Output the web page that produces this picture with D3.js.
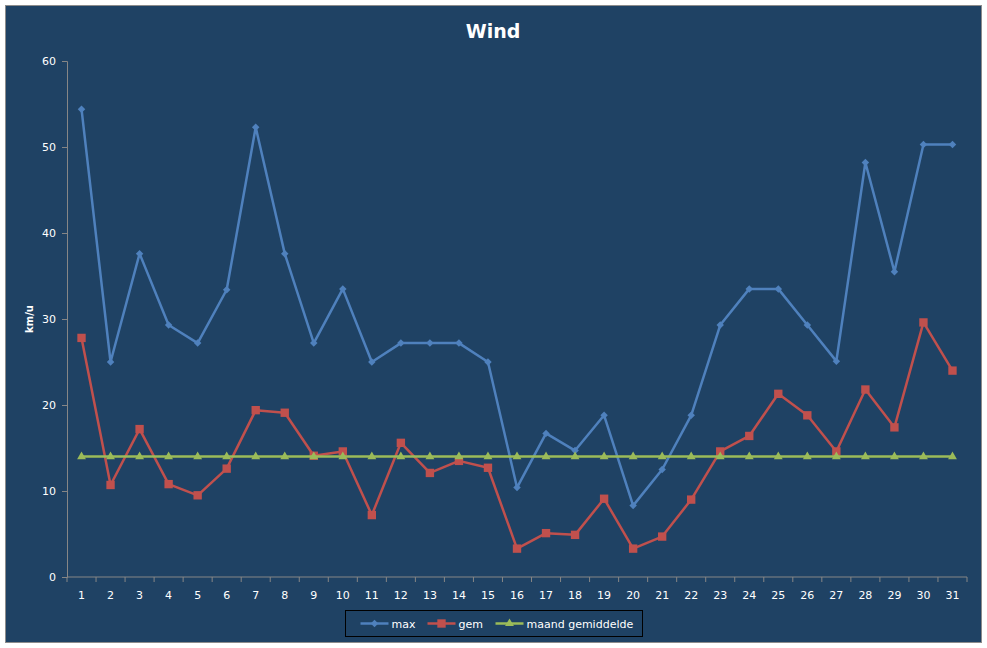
<!DOCTYPE html>
<html>
<head>
<meta charset="utf-8">
<script src="https://cdn.jsdelivr.net/npm/d3@7"></script>
<style>
  body { margin: 0; background: #fff; }
  text { font-family: "DejaVu Sans", Verdana, sans-serif; }
</style>
</head>
<body>
<svg id="chart"></svg>
<script>
var svg_width = 987, svg_height = 648;
var margin = { top: 61, right: 20, bottom: 71, left: 67 };
var width = 967 - margin.left;
var height = 577 - margin.top;

// data
var days = d3.range(1, 32);
var maxWind = [54.4, 25.0, 37.6, 29.3, 27.2, 33.4, 52.3, 37.6, 27.2, 33.5,
  25.0, 27.2, 27.2, 27.2, 25.0, 10.4, 16.7, 14.7, 18.8, 8.3,
  12.5, 18.8, 29.3, 33.5, 33.5, 29.3, 25.1, 48.2, 35.5, 50.3, 50.3];
var gemWind = [27.8, 10.7, 17.2, 10.8, 9.5, 12.6, 19.4, 19.1, 14.1, 14.6,
  7.2, 15.6, 12.1, 13.5, 12.7, 3.3, 5.1, 4.9, 9.1, 3.3,
  4.7, 9.0, 14.6, 16.4, 21.3, 18.8, 14.6, 21.8, 17.4, 29.6, 24.0];
var maandGem = days.map(function () { return 14.0; });
var yTicks = [0, 10, 20, 30, 40, 50, 60];

// marker rot = rotation in degrees (diamond = square turned 45)
var series = [
  { name: "max", values: maxWind, color: "#4F81BD", marker: d3.symbolSquare, size: 28, rot: 45 },
  { name: "gem", values: gemWind, color: "#C0504D", marker: d3.symbolSquare, size: 70, rot: 0 },
  { name: "maand gemiddelde", values: maandGem, color: "#9BBB59", marker: d3.symbolTriangle, size: 34, rot: 0 }
];

var svg = d3.select("#chart")
  .attr("width", svg_width)
  .attr("height", svg_height);

// frame
svg.append("rect")
  .attr("x", 5.5).attr("y", 5.5)
  .attr("width", 976).attr("height", 637)
  .attr("fill", "#1F4264")
  .attr("stroke", "#8C8C8C")
  .attr("stroke-width", 1);

svg.append("text")
  .attr("x", 493).attr("y", 38)
  .attr("text-anchor", "middle")
  .attr("fill", "#fff")
  .attr("font-size", 19)
  .attr("font-weight", "bold")
  .text("Wind");

var x = d3.scaleBand().domain(days).range([0, width]);
var y = d3.scaleLinear().domain([0, 60]).range([height, 0]);

var g = svg.append("g")
  .attr("transform", "translate(" + margin.left + "," + margin.top + ")");

// y axis
var yAxis = g.append("g")
  .call(d3.axisLeft(y).tickValues(yTicks).tickSize(5).tickPadding(6));
yAxis.select(".domain").attr("stroke", "#868686");
yAxis.selectAll(".tick line").attr("stroke", "#868686");
yAxis.selectAll("text").attr("fill", "#fff").attr("font-size", 11);

g.append("text")
  .attr("transform", "translate(-34," + (height / 2) + ") rotate(-90)")
  .attr("text-anchor", "middle")
  .attr("fill", "#fff")
  .attr("font-size", 10)
  .attr("font-weight", "bold")
  .text("km/u");

// x axis: ticks on band boundaries, labels in the middle
var xAxis = g.append("g")
  .attr("transform", "translate(0," + height + ")");
xAxis.append("line")
  .attr("x1", 0).attr("x2", width)
  .attr("stroke", "#868686");
xAxis.selectAll(".xt")
  .data(days)
  .enter().append("line")
  .attr("x1", function (d) { return x(d) + x.bandwidth(); })
  .attr("x2", function (d) { return x(d) + x.bandwidth(); })
  .attr("y1", 0).attr("y2", 5)
  .attr("stroke", "#868686");
xAxis.append("line")
  .attr("x1", 0).attr("x2", 0).attr("y1", 0).attr("y2", 5)
  .attr("stroke", "#868686");
xAxis.selectAll(".xl")
  .data(days)
  .enter().append("text")
  .attr("x", function (d) { return x(d) + x.bandwidth() / 2; })
  .attr("y", 22)
  .attr("text-anchor", "middle")
  .attr("fill", "#fff")
  .attr("font-size", 11)
  .text(function (d) { return d; });

var line = d3.line()
  .x(function (d, i) { return x(days[i]) + x.bandwidth() / 2; })
  .y(function (d) { return y(d); });

series.forEach(function (s) {
  g.append("path")
    .datum(s.values)
    .attr("fill", "none")
    .attr("stroke", s.color)
    .attr("stroke-width", 2.5)
    .attr("stroke-linejoin", "round")
    .attr("d", line);

  g.selectAll(null)
    .data(s.values)
    .enter().append("path")
    .attr("transform", function (d, i) {
      return "translate(" + (x(days[i]) + x.bandwidth() / 2) + "," + y(d) + ") rotate(" + s.rot + ")";
    })
    .attr("d", d3.symbol().type(s.marker).size(s.size))
    .attr("fill", s.color);
});

// legend
var legend = svg.append("g").attr("transform", "translate(345.5,610.5)");
legend.append("rect")
  .attr("width", 297).attr("height", 26)
  .attr("fill", "none")
  .attr("stroke", "#000")
  .attr("stroke-width", 1);

var legendX = [15, 82, 150];
series.forEach(function (s, i) {
  var item = legend.append("g").attr("transform", "translate(" + legendX[i] + ",13)");
  item.append("line")
    .attr("x1", 0).attr("x2", 28)
    .attr("stroke", s.color)
    .attr("stroke-width", 2.5);
  item.append("path")
    .attr("transform", "translate(14,0) rotate(" + s.rot + ")")
    .attr("d", d3.symbol().type(s.marker).size(s.size))
    .attr("fill", s.color);
  item.append("text")
    .attr("x", 31).attr("y", 4)
    .attr("fill", "#fff")
    .attr("font-size", 11)
    .text(s.name);
});
</script>
</body>
</html>
